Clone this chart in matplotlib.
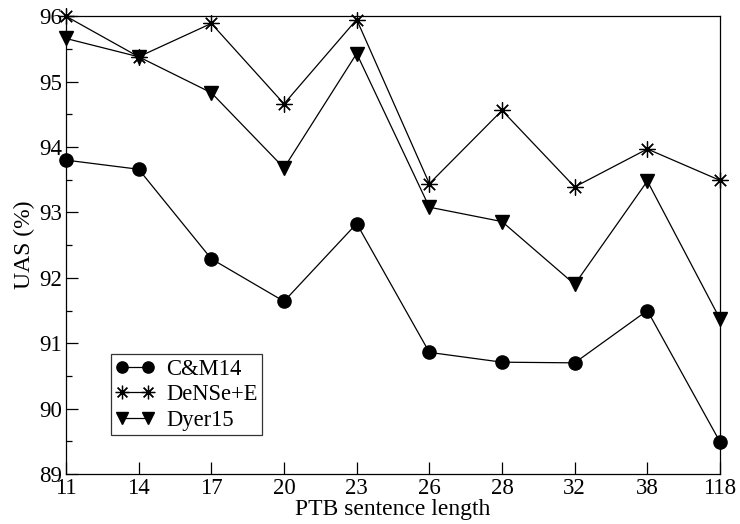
import matplotlib
matplotlib.use("Agg")
import matplotlib.pyplot as plt
from matplotlib.ticker import MultipleLocator

lengths = ["11", "14", "17", "20", "23", "26", "28", "32", "38", "118"]
cm14 = [93.80, 93.66, 92.29, 91.64, 92.83, 90.86, 90.71, 90.70, 91.50, 89.49]
dense_e = [96.00, 95.38, 95.89, 94.66, 95.95, 93.44, 94.56, 93.39, 93.97, 93.49]
dyer15 = [95.66, 95.38, 94.83, 93.68, 95.43, 93.08, 92.86, 91.90, 93.48, 91.37]

plt.rcParams["font.family"] = ["Liberation Serif", "DejaVu Serif"]

fig = plt.figure(figsize=(7.4, 5.24), dpi=100)
ax = fig.add_axes([0.0892, 0.0954, 0.8838, 0.8736])

x = list(range(len(lengths)))
ax.plot(x, cm14, color="black", lw=0.9, marker="o", ms=9.5, label="C&M14",
        clip_on=False, zorder=3)
ax.plot(x, dense_e, color="black", lw=0.9, marker=(8, 2, 0), ms=11.5, mew=0.9,
        label="DeNSe+E", clip_on=False, zorder=3)
ax.plot(x, dyer15, color="black", lw=0.9, marker="v", ms=9.5, label="Dyer15",
        clip_on=False, zorder=3)

ax.set_xlim(0, len(lengths) - 1)
ax.set_ylim(89, 96)
ax.set_xticks(x)
ax.set_xticklabels(lengths)
ax.yaxis.set_major_locator(MultipleLocator(1))
ax.yaxis.set_minor_locator(MultipleLocator(0.5))
ax.tick_params(which="both", direction="in", top=False, right=False,
               labelsize=16.5, pad=3, width=0.9)
ax.tick_params(which="major", length=8.5)
ax.tick_params(which="minor", length=4)
for s in ax.spines.values():
    s.set_linewidth(0.9)

ax.set_xlabel("PTB sentence length", fontsize=17, labelpad=0)
ax.set_ylabel("UAS (%)", fontsize=17, labelpad=3)

# legend sits low in the left corner, tight rows like the original
leg = ax.legend(loc="lower left", bbox_to_anchor=(0.0688, 0.085), numpoints=2,
                fontsize=16.3, frameon=True, fancybox=False, borderpad=0.2,
                labelspacing=0.2, handlelength=1.75, handletextpad=0.5,
                borderaxespad=0, markerscale=0.85)
leg.get_frame().set_edgecolor("black")
leg.get_frame().set_linewidth(0.9)

fig.savefig("out.png", dpi=100)
